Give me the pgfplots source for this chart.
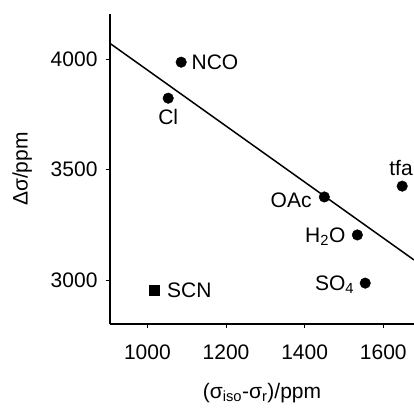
\documentclass[border=0pt]{standalone}
\usepackage{fontspec}
\setmainfont{Liberation Sans}
\usepackage{pgfplots}
\pgfplotsset{compat=1.18}

\newcommand{\lbl}{\fontsize{21}{24}\selectfont}

\begin{document}
\begin{tikzpicture}
\begin{axis}[
    scale only axis,
    width=304pt, height=310pt,
    xmin=905, xmax=1678,
    ymin=2801, ymax=4204,
    axis x line*=bottom, axis y line*=left,
    axis line style={black, line width=1.4pt},
    tick align=outside,
    major tick length=4pt,
    tick style={black, line width=1pt},
    xtick={1000,1200,1400,1600},
    ytick={3000,3500,4000},
    minor tick num=0,
    tick label style={font=\lbl},
    /pgf/number format/assume math mode=true,
    /pgf/number format/1000 sep={},
    xticklabel style={yshift=-13pt},
    yticklabel style={xshift=-5pt},
    xlabel={(σ\textsubscript{iso}-σ\textsubscript{r})/ppm},
    ylabel={Δσ/ppm},
    label style={font=\lbl},
    xlabel style={yshift=-17pt},
    ylabel style={yshift=12pt},
    clip=false,
]
\coordinate (bl) at (rel axis cs:0,0);
\coordinate (tr) at (rel axis cs:1,1);

\addplot[black, line width=1.5pt] coordinates {(905,4071) (1678,3091)};

\addplot[only marks, mark=*, mark size=5.3pt, black]
  coordinates {(1086,3986) (1053,3823) (1648,3425) (1450,3376) (1534,3204) (1554,2986)};
\addplot[only marks, mark=square*, mark size=5pt, black]
  coordinates {(1018,2955)};

\node[font=\lbl, anchor=west, inner sep=0pt] at (axis cs:1112,3986) {NCO};
\node[font=\lbl, anchor=north, inner sep=0pt] at (axis cs:1053,3775) {Cl};
\node[font=\lbl, anchor=south, inner sep=0pt] at (axis cs:1645,3472) {tfa};
\node[font=\lbl, anchor=east, inner sep=0pt] at (axis cs:1418,3360) {OAc};
\node[font=\lbl, anchor=east, inner sep=0pt] at (axis cs:1504,3195) {H\textsubscript{2}O};
\node[font=\lbl, anchor=east, inner sep=0pt] at (axis cs:1526,2980) {SO\textsubscript{4}};
\node[font=\lbl, anchor=west, inner sep=0pt] at (axis cs:1050,2955) {SCN};
\end{axis}
\pgfresetboundingbox
\path ([xshift=-110pt,yshift=-84pt]bl) rectangle ([yshift=14pt]tr);
\end{tikzpicture}
\end{document}
